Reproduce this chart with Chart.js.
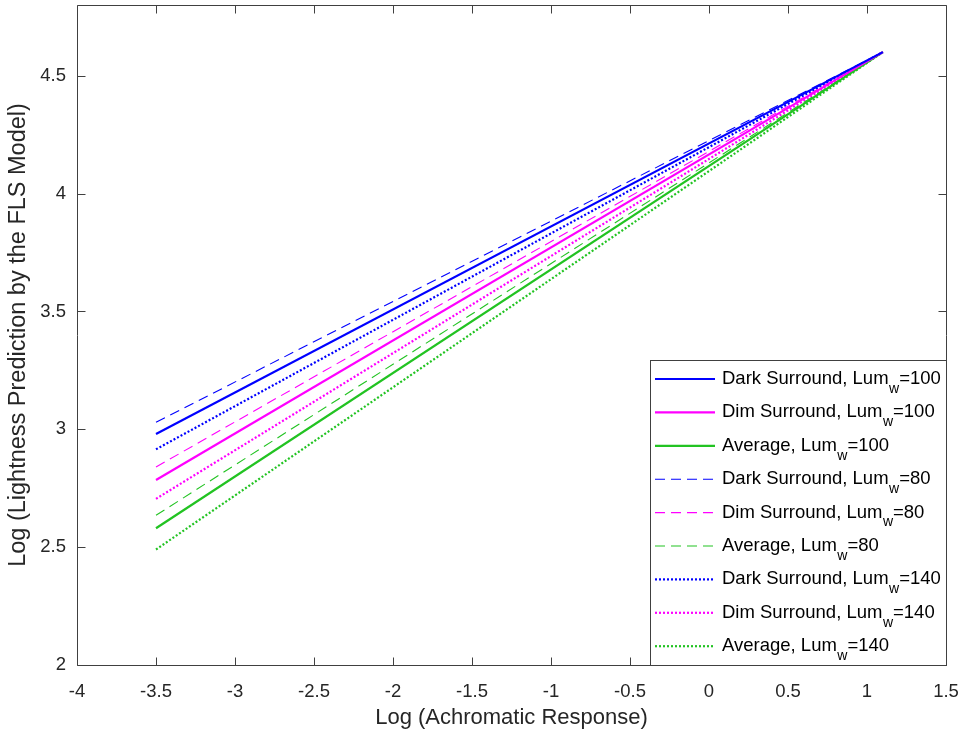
<!DOCTYPE html>
<html>
<head>
<meta charset="utf-8">
<script src="https://cdn.jsdelivr.net/npm/chart.js@4.4.1/dist/chart.umd.min.js"></script>
<style>
  html, body { margin: 0; padding: 0; background: #ffffff; }
  #wrap { width: 964px; height: 734px; }
</style>
</head>
<body>
<div id="wrap"><canvas id="chart" width="964" height="734"></canvas></div>
<script>
// Log achromatic response endpoints shared by every curve
const xEnds = [-3.5, 1.1];

// Log lightness predictions at the two endpoints, per surround and white luminance
const darkLum100 = [2.98, 4.60];
const dimLum100  = [2.785, 4.60];
const avgLum100  = [2.58, 4.60];
const darkLum80  = [3.03, 4.60];
const dimLum80   = [2.84, 4.60];
const avgLum80   = [2.635, 4.60];
const darkLum140 = [2.915, 4.60];
const dimLum140  = [2.705, 4.60];
const avgLum140  = [2.49, 4.60];

// Legend naming
const surroundNames = ['Dark Surround, Lum', 'Dim Surround, Lum', 'Average, Lum'];
const lumValues = ['100', '80', '140'];

// Axis ticks
const xTicks = [-4, -3.5, -3, -2.5, -2, -1.5, -1, -0.5, 0, 0.5, 1, 1.5];
const xTickLabels = ['-4', '-3.5', '-3', '-2.5', '-2', '-1.5', '-1', '-0.5', '0', '0.5', '1', '1.5'];
const yTicks = [2, 2.5, 3, 3.5, 4, 4.5];
const yTickLabels = ['2', '2.5', '3', '3.5', '4', '4.5'];

const BLUE = '#0000ff';
const MAGENTA = '#ff00ff';
const GREEN = '#22c322';
const AXIS = '#404040';
const FONT = "'Liberation Sans', Arial, Helvetica, sans-serif";
const TICK_SIZE = 18.5;
const TITLE_SIZE = 22;
const YTITLE_SIZE = 23.5;
const LEGEND_SIZE = 18.5;

function pts(ys) { return xEnds.map((x, i) => ({ x: x, y: ys[i] })); }

const styles = {
  solid:  { width: 2.2, dash: [] },
  dashed: { width: 1.1, dash: [10, 6] },
  dotted: { width: 2.2, dash: [2, 2] }
};

function series(label, sub, value, ys, color, style) {
  return {
    label: label + '_' + sub + '=' + value,
    legendName: label, legendValue: value, legendStyle: style,
    data: pts(ys),
    borderColor: color,
    backgroundColor: color,
    borderWidth: styles[style].width,
    borderDash: styles[style].dash,
    borderCapStyle: 'butt',
    pointRadius: 0,
    fill: false,
    tension: 0
  };
}

const datasets = [
  series(surroundNames[0], 'w', lumValues[0], darkLum100, BLUE, 'solid'),
  series(surroundNames[1], 'w', lumValues[0], dimLum100, MAGENTA, 'solid'),
  series(surroundNames[2], 'w', lumValues[0], avgLum100, GREEN, 'solid'),
  series(surroundNames[0], 'w', lumValues[1], darkLum80, BLUE, 'dashed'),
  series(surroundNames[1], 'w', lumValues[1], dimLum80, MAGENTA, 'dashed'),
  series(surroundNames[2], 'w', lumValues[1], avgLum80, GREEN, 'dashed'),
  series(surroundNames[0], 'w', lumValues[2], darkLum140, BLUE, 'dotted'),
  series(surroundNames[1], 'w', lumValues[2], dimLum140, MAGENTA, 'dotted'),
  series(surroundNames[2], 'w', lumValues[2], avgLum140, GREEN, 'dotted')
];

// Box frame with inward ticks on all four sides
const framePlugin = {
  id: 'frame',
  afterDatasetsDraw(chart) {
    const { ctx, chartArea: a, scales } = chart;
    const L = Math.round(a.left) + 0.5, R = Math.round(a.right) + 0.5;
    const T = Math.round(a.top) + 0.5, B = Math.round(a.bottom) + 0.5;
    const tl = 8;
    ctx.save();
    ctx.strokeStyle = AXIS;
    ctx.lineWidth = 1;
    ctx.setLineDash([]);
    ctx.beginPath();
    ctx.rect(L, T, R - L, B - T);
    scales.x.ticks.forEach(t => {
      const px = Math.round(scales.x.getPixelForValue(t.value)) + 0.5;
      ctx.moveTo(px, B); ctx.lineTo(px, B - tl);
      ctx.moveTo(px, T); ctx.lineTo(px, T + tl);
    });
    scales.y.ticks.forEach(t => {
      const py = Math.round(scales.y.getPixelForValue(t.value)) + 0.5;
      ctx.moveTo(L, py); ctx.lineTo(L + tl, py);
      ctx.moveTo(R, py); ctx.lineTo(R - tl, py);
    });
    ctx.stroke();
    ctx.restore();
  }
};

// Legend box in the lower right corner, with subscripted "w"
const legendPlugin = {
  id: 'cornerLegend',
  afterDraw(chart) {
    const { ctx, chartArea: a } = chart;
    const boxL = 650.5, boxT = 360.5;
    const boxR = Math.round(a.right) + 0.5, boxB = Math.round(a.bottom) + 0.5;
    ctx.save();
    ctx.fillStyle = '#ffffff';
    ctx.fillRect(boxL, boxT, boxR - boxL, boxB - boxT);
    ctx.strokeStyle = AXIS;
    ctx.lineWidth = 1;
    ctx.setLineDash([]);
    ctx.strokeRect(boxL, boxT, boxR - boxL, boxB - boxT);
    const rowTop = 379, rowStep = 33.4;
    chart.data.datasets.forEach((ds, i) => {
      const y = rowTop + i * rowStep;
      ctx.beginPath();
      ctx.strokeStyle = ds.borderColor;
      ctx.lineWidth = ds.borderWidth;
      ctx.setLineDash(ds.borderDash);
      ctx.lineCap = 'butt';
      ctx.moveTo(655, y); ctx.lineTo(715, y);
      ctx.stroke();
      ctx.setLineDash([]);
      ctx.fillStyle = '#000000';
      ctx.textBaseline = 'middle';
      ctx.textAlign = 'left';
      ctx.font = LEGEND_SIZE + 'px ' + FONT;
      let x = 722;
      ctx.fillText(ds.legendName, x, y);
      x += ctx.measureText(ds.legendName).width;
      ctx.font = '14px ' + FONT;
      ctx.fillText('w', x + 0.5, y + 10);
      x += ctx.measureText('w').width + 0.5;
      ctx.font = LEGEND_SIZE + 'px ' + FONT;
      ctx.fillText('=' + ds.legendValue, x, y);
    });
    ctx.restore();
  }
};

new Chart(document.getElementById('chart'), {
  type: 'line',
  data: { datasets: datasets },
  plugins: [framePlugin, legendPlugin],
  options: {
    responsive: false,
    animation: false,
    events: [],
    layout: { padding: { top: 5, right: 18, left: 0, bottom: 0 } },
    plugins: { legend: { display: false }, tooltip: { enabled: false } },
    scales: {
      x: {
        type: 'linear',
        min: -4, max: 1.5,
        afterBuildTicks(scale) { scale.ticks = xTicks.map(v => ({ value: v })); },
        afterFit(scale) { scale.height = 69; scale.paddingLeft = 0; scale.paddingRight = 0; },
        grid: { display: false, drawTicks: false },
        border: { display: false },
        ticks: {
          padding: 16,
          color: '#262626',
          font: { family: FONT, size: TICK_SIZE },
          callback(value) { const i = xTicks.indexOf(value); return i >= 0 ? xTickLabels[i] : ''; },
          maxRotation: 0, autoSkip: false
        },
        title: {
          display: true,
          text: 'Log (Achromatic Response)',
          color: '#262626',
          font: { family: FONT, size: TITLE_SIZE },
          padding: { top: 0, bottom: 3 }
        }
      },
      y: {
        type: 'linear',
        min: 2, max: 4.8,
        afterBuildTicks(scale) { scale.ticks = yTicks.map(v => ({ value: v })); },
        afterFit(scale) { scale.width = 77; scale.paddingTop = 0; scale.paddingBottom = 0; },
        grid: { display: false, drawTicks: false },
        border: { display: false },
        ticks: {
          padding: 11,
          color: '#262626',
          font: { family: FONT, size: TICK_SIZE },
          callback(value) { const i = yTicks.indexOf(value); return i >= 0 ? yTickLabels[i] : ''; },
          autoSkip: false
        },
        title: {
          display: true,
          text: 'Log (Lightness Prediction by the FLS Model)',
          color: '#262626',
          font: { family: FONT, size: YTITLE_SIZE },
          padding: { top: 4, bottom: 0 }
        }
      }
    }
  }
});
</script>
</body>
</html>
